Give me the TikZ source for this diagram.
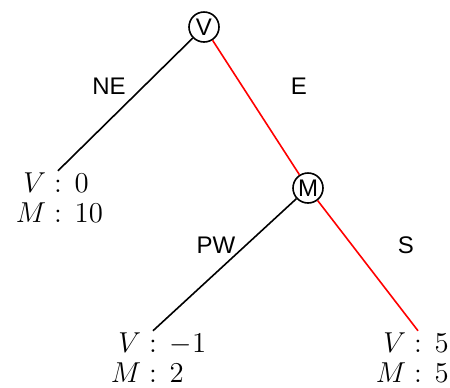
\documentclass[tikz,border=0pt]{standalone}
\usepackage{amsmath}
\usepackage{fontspec}
\setsansfont{Liberation Sans}
\usetikzlibrary{positioning}

% one "name : value" row, centred on the colon
\newcommand{\leafrow}[2]{\llap{$#1\;$}$:$\rlap{$\;\,#2$}}

\tikzset{
  state/.style={draw,circle,line width=0.8pt,minimum size=15pt,inner sep=0pt,font=\sffamily\large},
  leaf/.style={align=center,inner sep=1pt,font=\fontsize{15.5}{15}\selectfont},
  lbl/.style={font=\sffamily\large},
  edge/.style={line width=0.8pt},
  best/.style={edge,red}
}

\begin{document}
\begin{tikzpicture}[x=0.5pt,y=-0.5pt]
  \useasboundingbox (0,0) rectangle (450,387);
  % tree nodes
  \node[state] (v) at (204,27) {V};
  \node[state] (m) at (308,188) {M};
  \node[leaf] (l1) at (58,198) {\leafrow{V}{0}\\\leafrow{M}{10}};
  \node[leaf] (l2) at (153,358) {\leafrow{V}{-1}\\\leafrow{M}{2}};
  \node[leaf] (l3) at (418,358) {\leafrow{V}{5}\\\leafrow{M}{5}};
  % moves
  \draw[edge] (v) -- (l1.north);
  \draw[best] (v) -- (m);
  \draw[edge] (m) -- (l2.north);
  \draw[best] (m) -- (l3.north);
  \node[lbl] (ne) at (109,86) {NE};
  \node[lbl] (e) at (299,86) {E};
  \node[lbl] (pw) at (216,245) {PW};
  \node[lbl] (s) at (406,245) {S};
\end{tikzpicture}
\end{document}
